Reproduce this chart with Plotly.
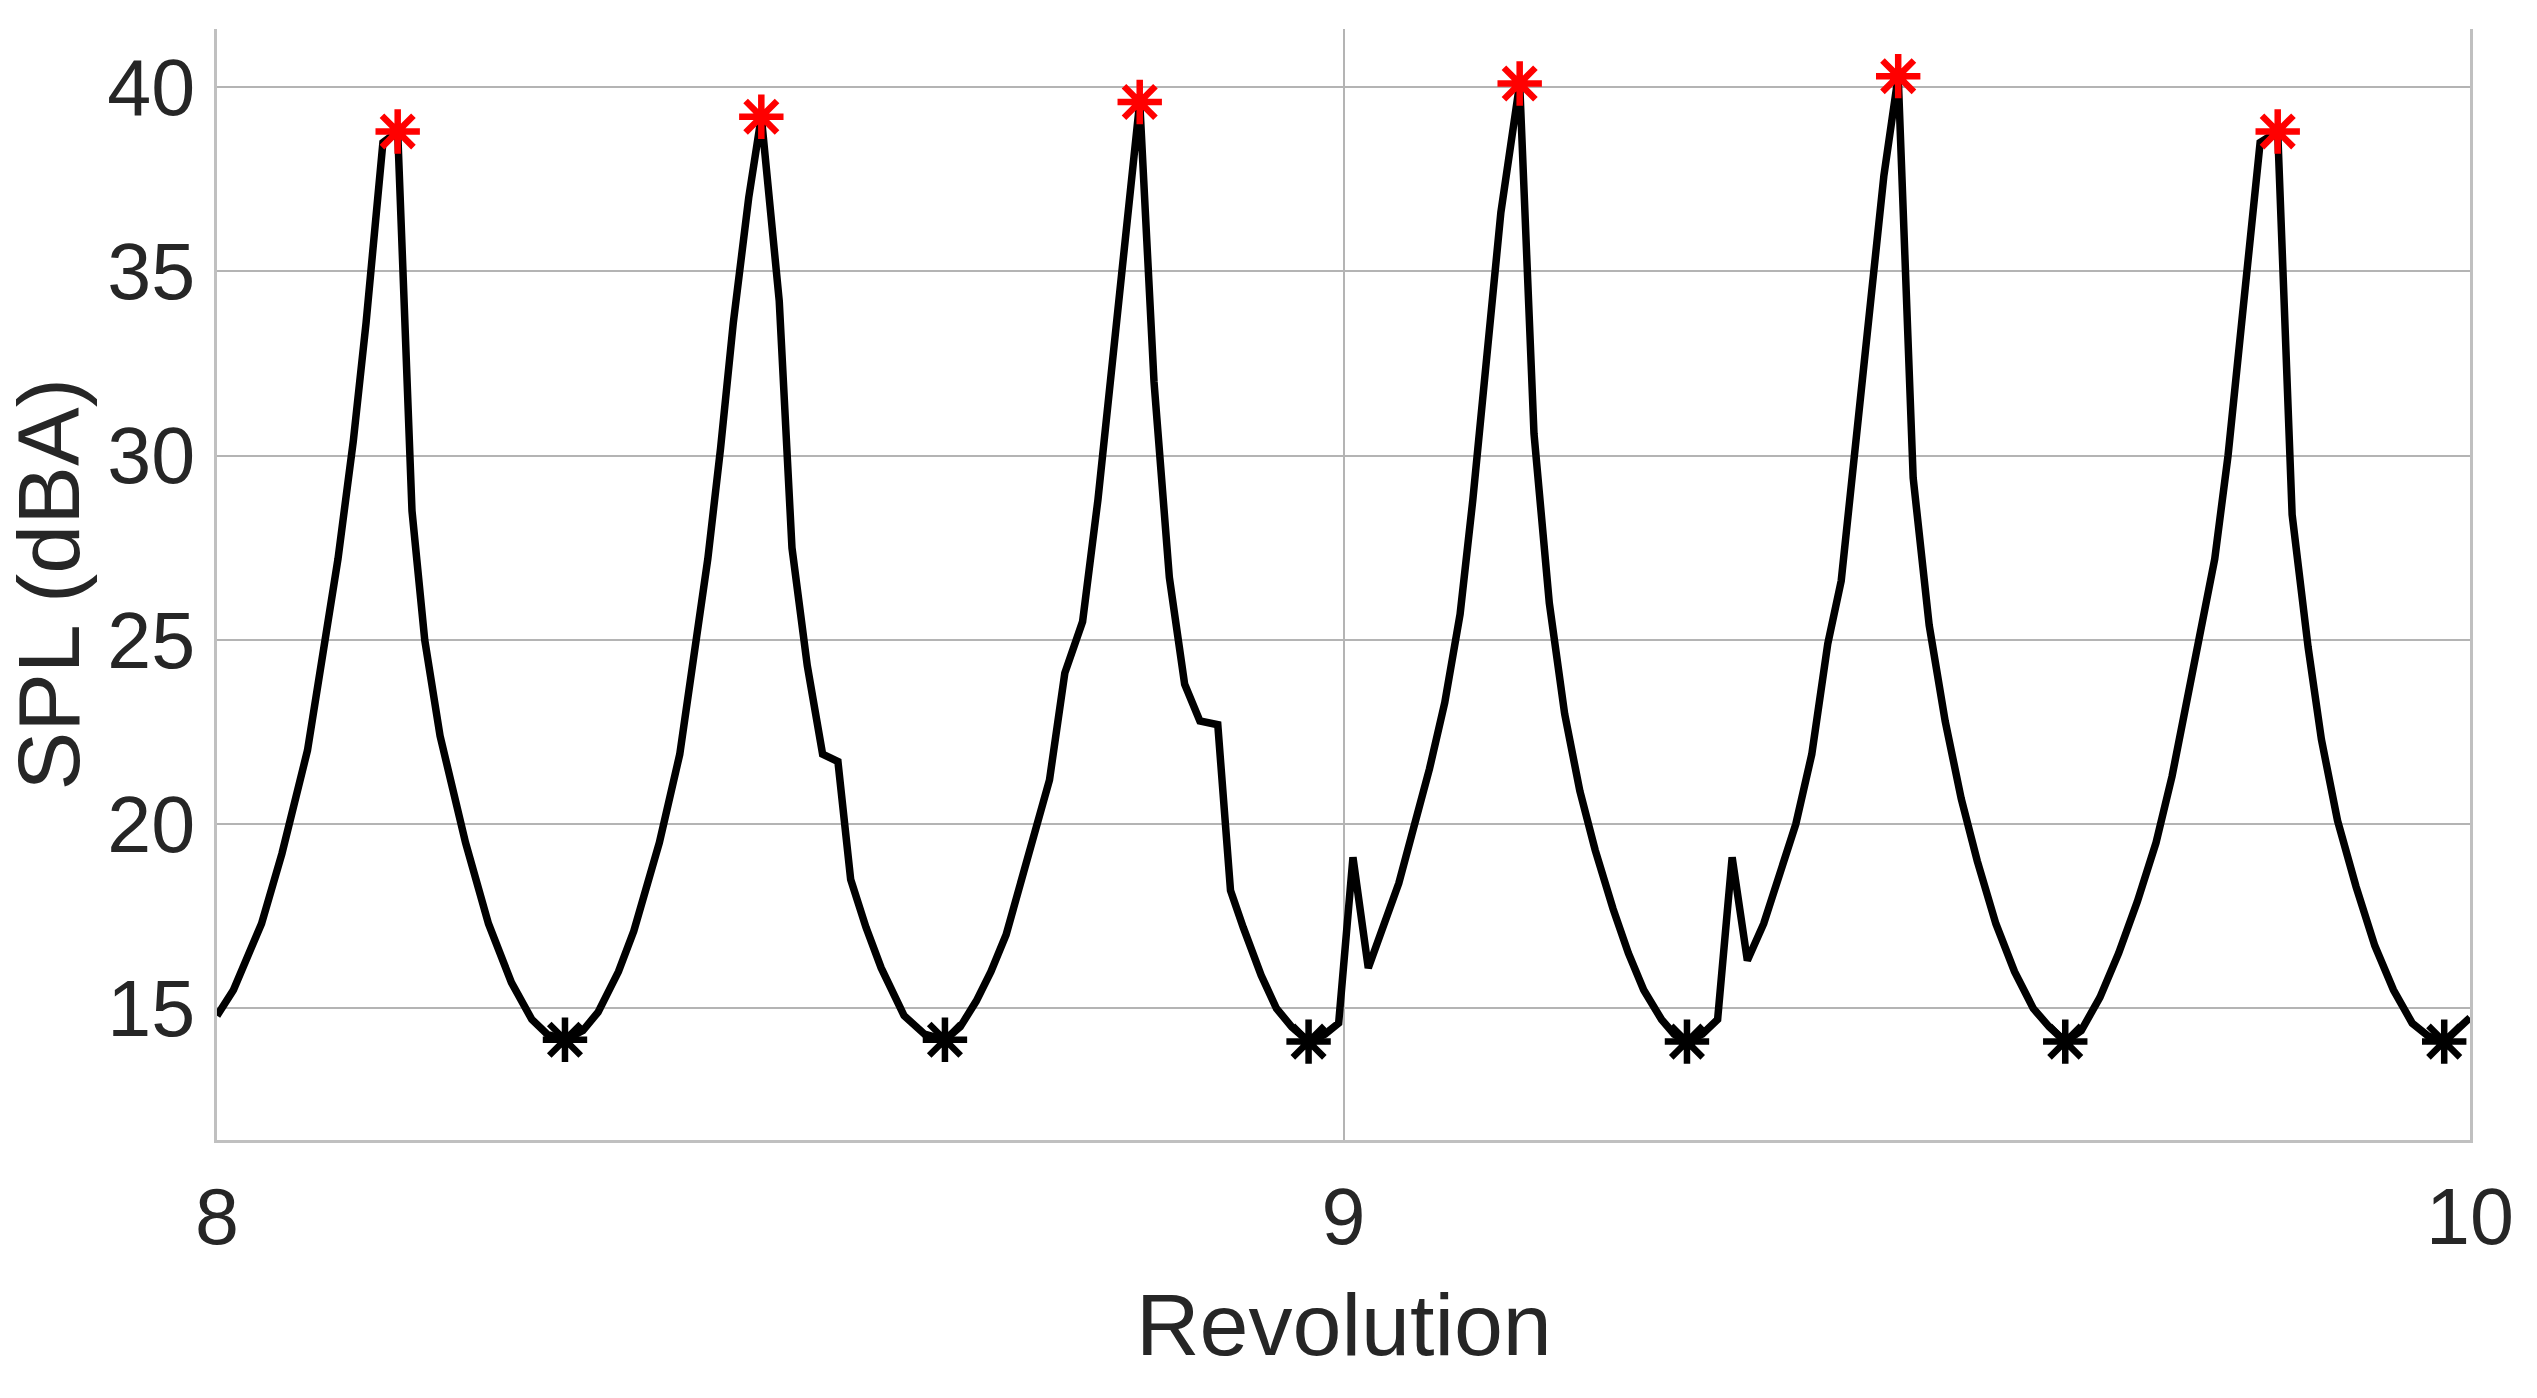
import plotly.graph_objects as go

# SPL trace over revolutions 8-10
revolution = [
    8.0000, 8.0146, 8.0395, 8.0576, 8.0803, 8.0961, 8.1074, 8.1210, 8.1323, 8.1473,
    8.1604, 8.1731, 8.1844, 8.1980, 8.2206, 8.2410, 8.2614, 8.2795, 8.2931, 8.3089,
    8.3248, 8.3383, 8.3564, 8.3700, 8.3927, 8.4108, 8.4244, 8.4357, 8.4470, 8.4583,
    8.4720, 8.4832, 8.4991, 8.5104, 8.5240, 8.5376, 8.5512, 8.5625, 8.5761, 8.5896,
    8.6100, 8.6281, 8.6462, 8.6598, 8.6740, 8.6870, 8.7005, 8.7231, 8.7390, 8.7526,
    8.7684, 8.7820, 8.7956, 8.8069, 8.8191, 8.8318, 8.8454, 8.8590, 8.8725, 8.8884,
    8.8997, 8.9110, 8.9269, 8.9405, 8.9540, 8.9690, 8.9835, 8.9957, 9.0084, 9.0220,
    9.0355, 9.0491, 9.0605, 9.0763, 9.0899, 9.1035, 9.1148, 9.1261, 9.1397, 9.1564,
    9.1691, 9.1827, 9.1963, 9.2098, 9.2234, 9.2393, 9.2529, 9.2665, 9.2823, 9.2936,
    9.3049, 9.3185, 9.3321, 9.3450, 9.3585, 9.3730, 9.3873, 9.4015, 9.4157, 9.4299,
    9.4418, 9.4536, 9.4678, 9.4797, 9.4924, 9.5057, 9.5199, 9.5341, 9.5483, 9.5626,
    9.5791, 9.5957, 9.6123, 9.6265, 9.6407, 9.6549, 9.6715, 9.6881, 9.7047, 9.7213,
    9.7355, 9.7497, 9.7615, 9.7734, 9.7852, 9.7994, 9.8137, 9.8293, 9.8421, 9.8563,
    9.8681, 9.8824, 9.8989, 9.9155, 9.9321, 9.9487, 9.9630, 9.9771, 9.9984, 10.0000,
]
spl = [
    14.8, 15.5, 17.3, 19.2, 22.0, 24.9, 27.2, 30.4, 33.6, 38.5,
    38.8, 28.5, 25.0, 22.4, 19.5, 17.3, 15.7, 14.7, 14.3, 14.15,
    14.4, 14.9, 16.0, 17.1, 19.5, 21.9, 24.7, 27.2, 30.2, 33.6,
    37.0, 39.2, 34.2, 27.5, 24.3, 21.9, 21.7, 18.5, 17.2, 16.1,
    14.8, 14.3, 14.15, 14.5, 15.2, 16.0, 17.0, 19.5, 21.2, 24.1,
    25.5, 28.8, 32.6, 36.2, 39.6, 32.0, 26.7, 23.8, 22.8, 22.7,
    18.2, 17.2, 15.9, 15.0, 14.5, 14.1, 14.3, 14.6, 19.1, 16.1,
    17.2, 18.4, 19.7, 21.5, 23.3, 25.7, 28.8, 32.4, 36.6, 40.1,
    30.6, 26.0, 23.0, 20.9, 19.3, 17.7, 16.5, 15.5, 14.7, 14.3,
    14.1, 14.3, 14.7, 19.1, 16.3, 17.3, 18.6, 20.0, 21.9, 24.9,
    26.6, 30.0, 34.4, 37.6, 40.3, 29.4, 25.4, 22.8, 20.7, 19.0,
    17.3, 16.0, 15.0, 14.5, 14.1, 14.4, 15.3, 16.5, 17.9, 19.5,
    21.3, 23.5, 25.1, 27.2, 30.0, 34.0, 38.5, 38.8, 28.4, 24.8,
    22.3, 20.1, 18.3, 16.7, 15.5, 14.6, 14.25, 14.1, 14.7, 14.75,
]

peak_rev = [8.1604, 8.4832, 8.8191, 9.1564, 9.4924, 9.8293]
peak_spl = [38.8, 39.2, 39.6, 40.1, 40.3, 38.8]
min_rev = [8.3089, 8.6462, 8.9690, 9.3049, 9.6407, 9.9771]
min_spl = [14.15, 14.15, 14.1, 14.1, 14.1, 14.1]

x_ticks = [8, 9, 10]
y_ticks = [15, 20, 25, 30, 35, 40]

FONT = "Liberation Sans, Arial, sans-serif"
TEXT = "#262626"


def star_marker(color):
    return dict(symbol="asterisk-open", size=37, color=color, line=dict(color=color, width=6.5))


fig = go.Figure()
fig.add_trace(
    go.Scatter(
        x=revolution, y=spl, mode="lines",
        line=dict(color="black", width=7.5), showlegend=False,
    )
)
fig.add_trace(
    go.Scatter(x=min_rev, y=min_spl, mode="markers", marker=star_marker("black"), showlegend=False)
)
fig.add_trace(
    go.Scatter(x=peak_rev, y=peak_spl, mode="markers", marker=star_marker("#ff0000"), showlegend=False)
)

axis_common = dict(
    showgrid=True, gridcolor="#b4b4b4", gridwidth=2,
    zeroline=False, ticks="",
    showline=True, linecolor="#c0c0c0", linewidth=3,
    tickfont=dict(family=FONT, size=79, color=TEXT),
)

fig.update_layout(
    width=2537, height=1398,
    margin=dict(l=217, r=67, t=29, b=258),
    paper_bgcolor="white", plot_bgcolor="white",
    xaxis=dict(range=[8, 10], tickvals=x_ticks, ticklabelstandoff=6, **axis_common),
    yaxis=dict(range=[11.43, 41.58], tickvals=y_ticks, mirror=True, ticklabelstandoff=3, **axis_common),
    annotations=[
        dict(text="Revolution", xref="paper", yref="paper", x=0.5, y=-0.166,
             xanchor="center", yanchor="middle", showarrow=False,
             font=dict(family=FONT, size=88, color=TEXT)),
        dict(text="SPL (dBA)", xref="paper", yref="paper", x=-0.075, y=0.5,
             xanchor="center", yanchor="middle", textangle=-90, showarrow=False,
             font=dict(family=FONT, size=88, color=TEXT)),
    ],
)

fig.write_html(
    "out.html",
    config=dict(displayModeBar=False),
    post_script="document.body.style.margin='0px';document.body.style.overflow='hidden';",
)
